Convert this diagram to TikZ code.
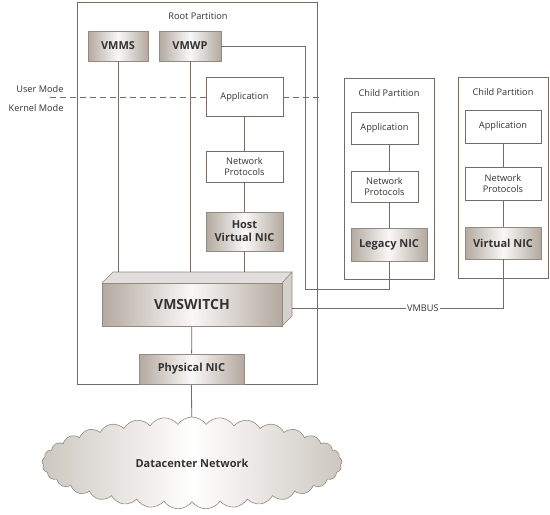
\documentclass[tikz,border=0pt]{standalone}
\usepackage{fontspec}
\setmainfont{Open Sans}
\usetikzlibrary{shapes.symbols,calc,backgrounds}
\definecolor{ln}{HTML}{776B62}
\definecolor{shd}{HTML}{B3A99F}
\definecolor{txt}{HTML}{333333}
\tikzset{
  plain/.style={draw=ln, fill=white, line width=0.8pt, inner sep=0pt, font=\fontsize{9.2}{11}\selectfont, text=txt, align=center},
  shadedbox/.style={draw=ln!80, line width=0.6pt, inner sep=0pt, left color=shd, right color=shd, middle color=shd!8, font=\bfseries\fontsize{11}{13}\selectfont, text=txt, align=center},
  part/.style={draw=ln, line width=0.8pt},
  conn/.style={draw=ln, line width=0.8pt},
  lbl/.style={font=\fontsize{9.2}{11}\selectfont, text=txt},
}
\begin{document}
\begin{tikzpicture}[x=1pt,y=-1pt]
\useasboundingbox (0,0) rectangle (550,515);
% partitions
\draw[part] (77,2) rectangle (317,384);
\node[lbl] (rootlbl) at (198,16) {Root Partition};
\draw[part] (344,78) rectangle (434,279);
\node[lbl] (c1lbl) at (389,93) {Child Partition};
\draw[part] (458,77) rectangle (548,278);
\node[lbl] (c2lbl) at (503,92) {Child Partition};
% mode labels
\node[lbl, anchor=east] (user) at (67,89) {User Mode};
\node[lbl, anchor=east] (kernel) at (67,108) {Kernel Mode};
% root nodes
\node[shadedbox, minimum width=60, minimum height=30] (vmms) at (118,46) {VMMS};
\node[shadedbox, minimum width=62, minimum height=30] (vmwp) at (190,46) {VMWP};
\node[plain, minimum width=77, minimum height=39] (app0) at (244.5,97) {Application};
\node[plain, minimum width=77, minimum height=31] (np0) at (244.5,166.5) {Network\\Protocols};
\node[shadedbox, minimum width=77, minimum height=39] (hnic) at (244.5,231.5) {Host\\Virtual NIC};
% child 1
\node[plain, minimum width=67, minimum height=32] (app1) at (384.5,128) {Application};
\node[plain, minimum width=67, minimum height=31] (np1) at (384.5,186.5) {Network\\Protocols};
\node[shadedbox, minimum width=76, minimum height=33] (legacy) at (389,244.5) {Legacy NIC};
% child 2
\node[plain, minimum width=76, minimum height=33] (app2) at (503,126.5) {Application};
\node[plain, minimum width=76, minimum height=33] (np2) at (503,183.5) {Network\\Protocols};
\node[shadedbox, minimum width=76, minimum height=32] (vnic) at (503,243) {Virtual NIC};
% vmswitch 3D
\fill[ln!22] (102,283) -- (113,272) -- (292,272) -- (282,283) -- cycle;
\fill[ln!32] (282,283) -- (292,272) -- (292,316) -- (282,326) -- cycle;
\draw[ln!80, line width=0.6pt] (102,283) -- (113,272) -- (292,272) -- (282,283) (292,272) -- (292,316) -- (282,326);
\node[shadedbox, minimum width=180, minimum height=43, font=\bfseries\fontsize{14}{16}\selectfont] (vmswitch) at (192,304.5) {VMSWITCH};
\coordinate (swtop) at (192,272);
\coordinate (swright) at (292,308);
\node[shadedbox, minimum width=105, minimum height=30] (pnic) at (191.5,369) {Physical NIC};
% cloud
\node[cloud, cloud puffs=33, cloud puff arc=110, cloud ignores aspect, minimum width=300, minimum height=92, draw=ln!80, line width=0.6pt, left color=shd!65, right color=shd!65, middle color=white, font=\bfseries\fontsize{11}{13}\selectfont, text=txt] (dc) at (192,463) {Datacenter Network};
% connectors
\draw[conn] (vmms.south) -- (vmms.south |- swtop);
\draw[conn] (vmwp.south) -- (vmwp.south |- swtop);
\draw[conn] (app0) -- (np0);
\draw[conn] (np0) -- (hnic);
\draw[conn] (hnic.south) -- (hnic.south |- swtop);
\draw[conn] (app1.south -| legacy.north) -- (np1.north -| legacy.north);
\draw[conn] (np1.south -| legacy.north) -- (legacy.north);
\draw[conn] (app2) -- (np2);
\draw[conn] (np2) -- (vnic);
\coordinate (k1) at (305,289);
\draw[conn] (vmwp.east) -| (k1) -| (legacy.south);
\draw[conn] (swright) -| (vnic.south) node[pos=0.31, fill=white, inner sep=1pt, lbl] (vmbus) {VMBUS};
\draw[conn] (vmswitch) -- (pnic);
\begin{scope}[on background layer]
\draw[conn] (pnic.south) -- (dc.center);
\end{scope}
% mode dashed line
\coordinate (dl) at (50,97);
\coordinate (dr) at (322,97);
\draw[conn, dash pattern=on 6pt off 4pt] (dl) -- (app0.west);
\draw[conn, dash pattern=on 6pt off 4pt] (app0.east) -- (dr);
\end{tikzpicture}
\end{document}
